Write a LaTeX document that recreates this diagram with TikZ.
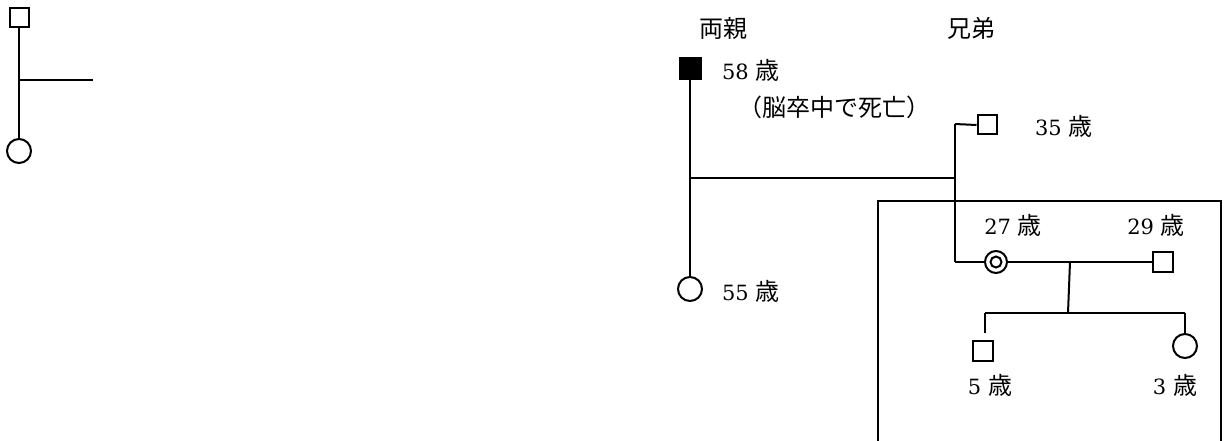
\documentclass[tikz,border=0pt]{standalone}
\usepackage{fontspec}
\setmainfont{DejaVu Serif}
\newfontfamily\jpf{Noto Sans CJK JP}
\newcommand\jptext[1]{{\fontsize{24}{28}\selectfont\jpf #1}}
\newcommand\jpsai{\jptext{歳}}
\begin{document}
\begin{tikzpicture}[x=1pt,y=-1pt,line width=2pt,
  male/.style={draw,rectangle,minimum size=20pt,inner sep=0pt},
  female/.style={draw,circle,minimum size=24pt,inner sep=0pt},
  lbl/.style={inner sep=0pt,font=\fontsize{21}{28}\selectfont}]
\useasboundingbox (0,0) rectangle (1227,441);
% left fragment
\node[male,minimum size=19pt] (lsq) at (19,18) {};
\node[female] (lci) at (19,151) {};
\draw (lsq.south) -- (lci.north);
\coordinate (lj) at (19,80);
\coordinate (le) at (93,80);
\draw (lj) -- (le);
% headers
\node[lbl] (h1) at (723,28) {\jptext{両親}};
\node[lbl] (h2) at (971,28) {\jptext{兄弟}};
% parents
\node[male,fill=black,minimum size=21pt] (fa) at (690,69) {};
\node[lbl,anchor=west] (fal) at (721,70) {58 \jpsai};
\node[lbl,anchor=west] (fan) at (737,107) {\jptext{（脳卒中で死亡）}};
\node[female] (mo) at (690,289) {};
\node[lbl,anchor=west] (mol) at (721,291) {55 \jpsai};
\draw (fa.south) -- (mo.north);
\coordinate (pj) at (690,178);
\coordinate (sj) at (955,178);
\draw (pj) -- (sj);
% siblings
\coordinate (st) at (955,124);
\coordinate (sb) at (955,262);
\draw (st) -- (sb);
\node[male,minimum size=19pt] (br) at (987,125) {};
\node[lbl,anchor=west] (brl) at (1034,126) {35 \jpsai};
\draw (st) -- (br.west);
% box
\coordinate (b1) at (878,441);
\coordinate (b2) at (878,201);
\coordinate (b3) at (1221,201);
\coordinate (b4) at (1221,441);
\draw (b1) -- (b2) -- (b3) -- (b4);
% patient and spouse
\node[draw,circle,minimum size=22pt,inner sep=0pt] (pt) at (996,262) {};
\node[draw,circle,minimum size=11pt,inner sep=0pt] (pti) at (pt) {};
\node[lbl] (ptl) at (1013,225) {27 \jpsai};
\node[male] (sp) at (1163,262) {};
\node[lbl] (spl) at (1156,225) {29 \jpsai};
\draw (sb) -- (pt.west);
\draw (pt.east) -- (sp.west);
% children
\coordinate (mj) at (1070,262);
\coordinate (cj) at (1068,313);
\coordinate (cl) at (985,313);
\coordinate (cr) at (1185,313);
\draw (mj) -- (cj);
\node[male] (so) at (983,351) {};
\node[female] (da) at (1185,346) {};
\draw (cl) -- (cr);
\coordinate (cle) at (985,333);
\draw (cl) -- (cle);
\draw (cr) -- (da.north);
\node[lbl] (sol) at (990,385) {5 \jpsai};
\node[lbl] (dal) at (1175,385) {3 \jpsai};
\end{tikzpicture}
\end{document}
